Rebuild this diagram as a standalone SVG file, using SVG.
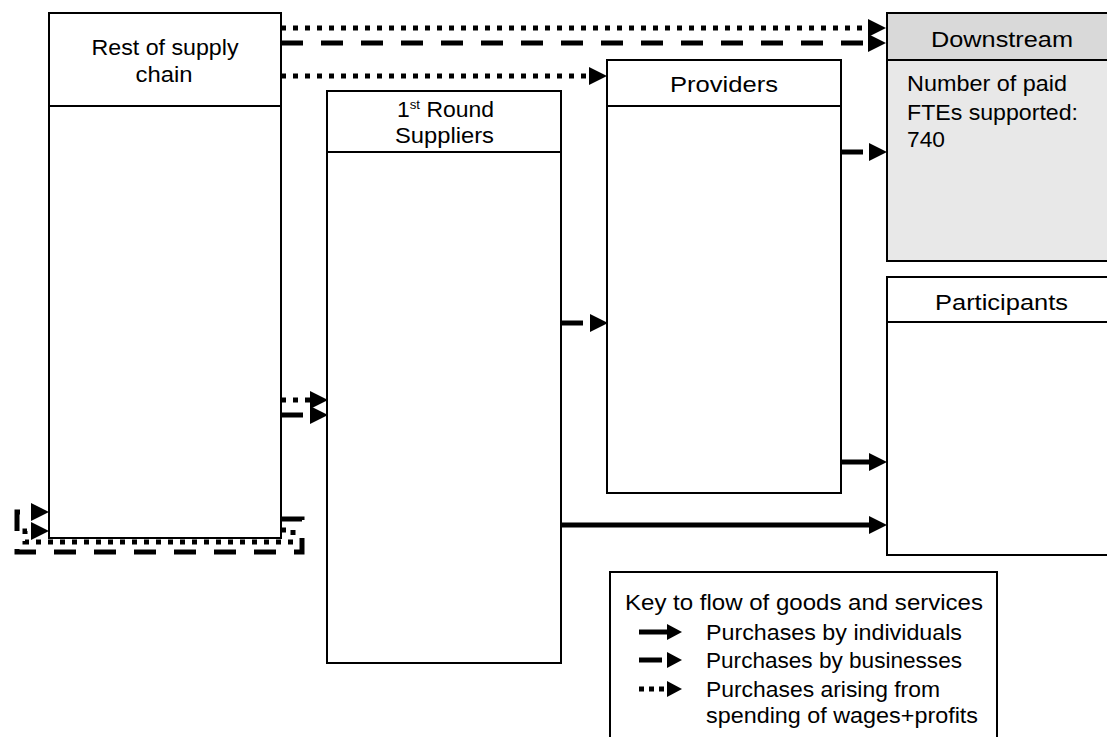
<svg xmlns="http://www.w3.org/2000/svg" width="1107" height="737" viewBox="0 0 1107 737">
<style>
.box{fill:#fff;stroke:#000;stroke-width:2}
.div{stroke:#000;stroke-width:2}
.t{font-family:"Liberation Sans",Arial,sans-serif;font-size:22.5px;fill:#000}
.c{text-anchor:middle}
.ln{fill:none;stroke:#000;stroke-width:5}
.solid{marker-end:url(#ah)}
.dash{stroke-dasharray:22 18;marker-end:url(#ah)}
.dot{stroke-dasharray:5 7;marker-end:url(#ah)}
.ks{marker-end:url(#ahs)}
</style>
<defs>
<marker id="ah" markerUnits="userSpaceOnUse" markerWidth="18" markerHeight="18" refX="0" refY="9" orient="auto" viewBox="0 0 18 18"><path d="M0,0 L18,9 L0,18 Z" fill="#000"/></marker>
<marker id="ahs" markerUnits="userSpaceOnUse" markerWidth="15" markerHeight="16" refX="0" refY="8" orient="auto" viewBox="0 0 15 16"><path d="M0,0 L15,8 L0,16 Z" fill="#000"/></marker>
</defs>
<rect width="1107" height="737" fill="#fff"/>

<g id="rest">
<rect class="box" x="49" y="13" width="232" height="525"/>
<line class="div" x1="49" y1="106" x2="281" y2="106"/>
<text class="t c" x="165" y="55" textLength="147" lengthAdjust="spacingAndGlyphs">Rest of supply</text>
<text class="t c" x="164" y="82" textLength="57" lengthAdjust="spacingAndGlyphs">chain</text>
</g>

<g id="first-round">
<rect class="box" x="327" y="91" width="234" height="572"/>
<line class="div" x1="327" y1="152" x2="561" y2="152"/>
<text class="t" x="397" y="117" textLength="97" lengthAdjust="spacingAndGlyphs">1<tspan font-size="13" dy="-8">st</tspan><tspan dy="8"> Round</tspan></text>
<text class="t" x="395" y="143" textLength="99" lengthAdjust="spacingAndGlyphs">Suppliers</text>
</g>

<g id="providers">
<rect class="box" x="607" y="60" width="234" height="433"/>
<line class="div" x1="607" y1="106" x2="841" y2="106"/>
<text class="t" x="670" y="92" textLength="108" lengthAdjust="spacingAndGlyphs">Providers</text>
</g>

<g id="downstream">
<rect x="887" y="13" width="240" height="47" fill="#d9d9d9" stroke="#000" stroke-width="2"/>
<rect x="887" y="60" width="240" height="201" fill="#e8e8e8" stroke="#000" stroke-width="2"/>
<text class="t" x="931" y="47" textLength="142" lengthAdjust="spacingAndGlyphs">Downstream</text>
<text class="t" x="907" y="91" textLength="160" lengthAdjust="spacingAndGlyphs">Number of paid</text>
<text class="t" x="907" y="120" textLength="171" lengthAdjust="spacingAndGlyphs">FTEs supported:</text>
<text class="t" x="907" y="147" textLength="38" lengthAdjust="spacingAndGlyphs">740</text>
</g>

<g id="participants">
<rect class="box" x="887" y="277" width="240" height="278"/>
<line class="div" x1="887" y1="322" x2="1127" y2="322"/>
<text class="t" x="935" y="310" textLength="133" lengthAdjust="spacingAndGlyphs">Participants</text>
</g>

<g id="key">
<rect class="box" x="610" y="572" width="387" height="190"/>
<text class="t" x="625" y="610" textLength="358" lengthAdjust="spacingAndGlyphs">Key to flow of goods and services</text>
<text class="t" x="706" y="640" textLength="256" lengthAdjust="spacingAndGlyphs">Purchases by individuals</text>
<text class="t" x="706" y="668" textLength="256" lengthAdjust="spacingAndGlyphs">Purchases by businesses</text>
<text class="t" x="706" y="697" textLength="234" lengthAdjust="spacingAndGlyphs">Purchases arising from</text>
<text class="t" x="706" y="723" textLength="272" lengthAdjust="spacingAndGlyphs">spending of wages+profits</text>
<path class="ln ks" d="M639,632 H667"/>
<path class="ln ks" d="M639,660 H667" stroke-dasharray="23 10"/>
<path class="ln ks" d="M639,689 H667" stroke-dasharray="5 5"/>
</g>

<g id="connectors">
<path class="ln dot" d="M281,28 H868"/>
<path class="ln dash" d="M281,43 H868"/>
<path class="ln dot" d="M281,76 H589"/>
<path class="ln dot" d="M281,400 H310"/>
<path class="ln dash" d="M281,415 H310"/>
<path class="ln dash" d="M561,323 H590"/>
<path class="ln dash" d="M841,152 H869"/>
<path class="ln solid" d="M841,462 H869"/>
<path class="ln solid" d="M561,525 H869"/>
<path class="ln dash" d="M281,519 H302 V552 H17 V512 H31"/>
<path class="ln dot" d="M281,530 H293 V542 H25 V531 H31"/>
</g>
</svg>
